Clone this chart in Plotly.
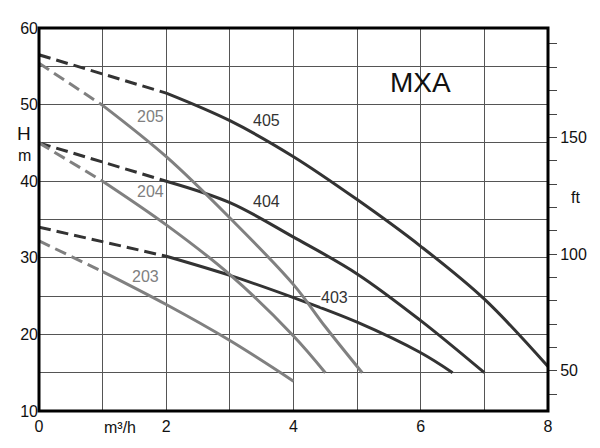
import plotly.graph_objects as go

# Pump curves MXA: flow Q (m3/h) vs head H (m)
# dashed part = start of curve near zero flow, solid part = working range
q_405_dash = [0, 2]
h_405_dash = [56.5, 51.5]
q_405 = [2, 3, 4, 5, 6, 7, 8]
h_405 = [51.5, 47.9, 43.2, 37.6, 31.5, 24.6, 15.8]

q_404_dash = [0, 2]
h_404_dash = [45.0, 40.0]
q_404 = [2, 3, 4, 5, 6, 7]
h_404 = [40.0, 37.2, 32.7, 27.9, 21.8, 15.0]

q_403_dash = [0, 2]
h_403_dash = [34.0, 30.2]
q_403 = [2, 3, 4, 5, 6, 6.5]
h_403 = [30.2, 27.7, 24.8, 21.6, 17.6, 15.0]

q_205_dash = [0, 1]
h_205_dash = [55.4, 49.9]
q_205 = [1, 2, 3, 4, 4.5, 5.08]
h_205 = [49.9, 43.2, 35.2, 26.5, 21.0, 15.0]

q_204_dash = [0, 1]
h_204_dash = [45.0, 40.0]
q_204 = [1, 2, 3, 4, 4.5]
h_204 = [40.0, 34.3, 27.8, 19.8, 15.0]

q_203_dash = [0, 1]
h_203_dash = [32.2, 28.2]
q_203 = [1, 2, 3, 4]
h_203 = [28.2, 23.9, 19.2, 13.9]

x_ticks = [0, 1, 2, 3, 4, 5, 6, 7, 8]
x_labels = ["0", "", "2", "", "4", "", "6", "", "8"]
y_ticks = [10, 15, 20, 25, 30, 35, 40, 45, 50, 55, 60]
y_labels = ["10", "", "20", "", "30", "", "40", "", "50", "", "60"]
ft_ticks = [40, 50, 60, 70, 80, 90, 100, 110, 120, 130, 140, 150, 160, 170, 180, 190]
ft_labels = ["" if v not in (50, 100, 150) else str(v) for v in ft_ticks]

# curve labels: (text, q, h)
curve_labels = [
    ("205", 1.76, 48.4), ("204", 1.76, 38.7), ("203", 1.68, 27.5),
    ("405", 3.57, 47.9), ("404", 3.57, 37.3), ("403", 4.65, 24.8),
]

DARK = "#333333"
GRAY = "#808080"
FONT = "Liberation Sans, Arial, sans-serif"

curves = [
    (q_405_dash, h_405_dash, q_405, h_405, DARK),
    (q_404_dash, h_404_dash, q_404, h_404, DARK),
    (q_403_dash, h_403_dash, q_403, h_403, DARK),
    (q_205_dash, h_205_dash, q_205, h_205, GRAY),
    (q_204_dash, h_204_dash, q_204, h_204, GRAY),
    (q_203_dash, h_203_dash, q_203, h_203, GRAY),
]

fig = go.Figure()
for qd, hd, qs, hs, col in curves:
    fig.add_trace(go.Scatter(x=qd, y=hd, mode="lines", showlegend=False,
                             line=dict(color=col, width=3, dash="12px,6px")))
    fig.add_trace(go.Scatter(x=qs, y=hs, mode="lines", showlegend=False,
                             line=dict(color=col, width=3, shape="spline", smoothing=1.0)))

# invisible trace to carry the right-hand ft axis
fig.add_trace(go.Scatter(x=[0], y=[40], yaxis="y2", mode="markers",
                         marker=dict(opacity=0), showlegend=False, hoverinfo="skip"))

for txt, q, h in curve_labels:
    col = DARK if txt.startswith("4") else GRAY
    fig.add_annotation(x=q, y=h, text=txt, showarrow=False,
                       font=dict(size=16, color=col, family=FONT),
                       bgcolor="white" if txt == "403" else None, borderpad=0)

fig.add_annotation(x=5.99, y=52.9, text="MXA", showarrow=False,
                   font=dict(size=28, color="#111", family=FONT))

# axis titles placed by hand (paper coords, centred)
axis_titles = [("H", -0.029, 0.724, 19), ("m", -0.029, 0.668, 16),
               ("m³/h", 0.159, -0.044, 16), ("ft", 1.055, 0.557, 16)]
for txt, px, py, size in axis_titles:
    fig.add_annotation(xref="paper", yref="paper", x=px, y=py, text=txt,
                       xanchor="center", yanchor="middle", showarrow=False,
                       font=dict(size=size, color="#111", family=FONT))

# heavy frame around the plot
fig.add_shape(type="rect", xref="paper", yref="paper", x0=0, y0=0, x1=1, y1=1,
              line=dict(color="black", width=3), layer="above")

# page body adds an 8px offset, so the figure is drawn 8px smaller and shifted
fig.update_layout(
    width=592, height=440,
    margin=dict(l=31, r=52, t=15, b=37),
    plot_bgcolor="white", paper_bgcolor="white",
    font=dict(family=FONT, size=16, color="#111"),
    xaxis=dict(range=[0, 8], tickvals=x_ticks, ticktext=x_labels,
               showgrid=True, gridcolor="#555", gridwidth=1, zeroline=False,
               ticks="", showline=False, ticklabelstandoff=4),
    yaxis=dict(range=[10, 60], tickvals=y_ticks, ticktext=y_labels,
               showgrid=True, gridcolor="#555", gridwidth=1, zeroline=False,
               ticks="", showline=False),
    yaxis2=dict(range=[10 / 0.3048, 60 / 0.3048], overlaying="y", side="right",
                tickvals=ft_ticks, ticktext=ft_labels, ticks="outside",
                ticklen=8, tickcolor="#444", showgrid=False, zeroline=False,
                showline=False),
)

fig.write_html("out.html")
